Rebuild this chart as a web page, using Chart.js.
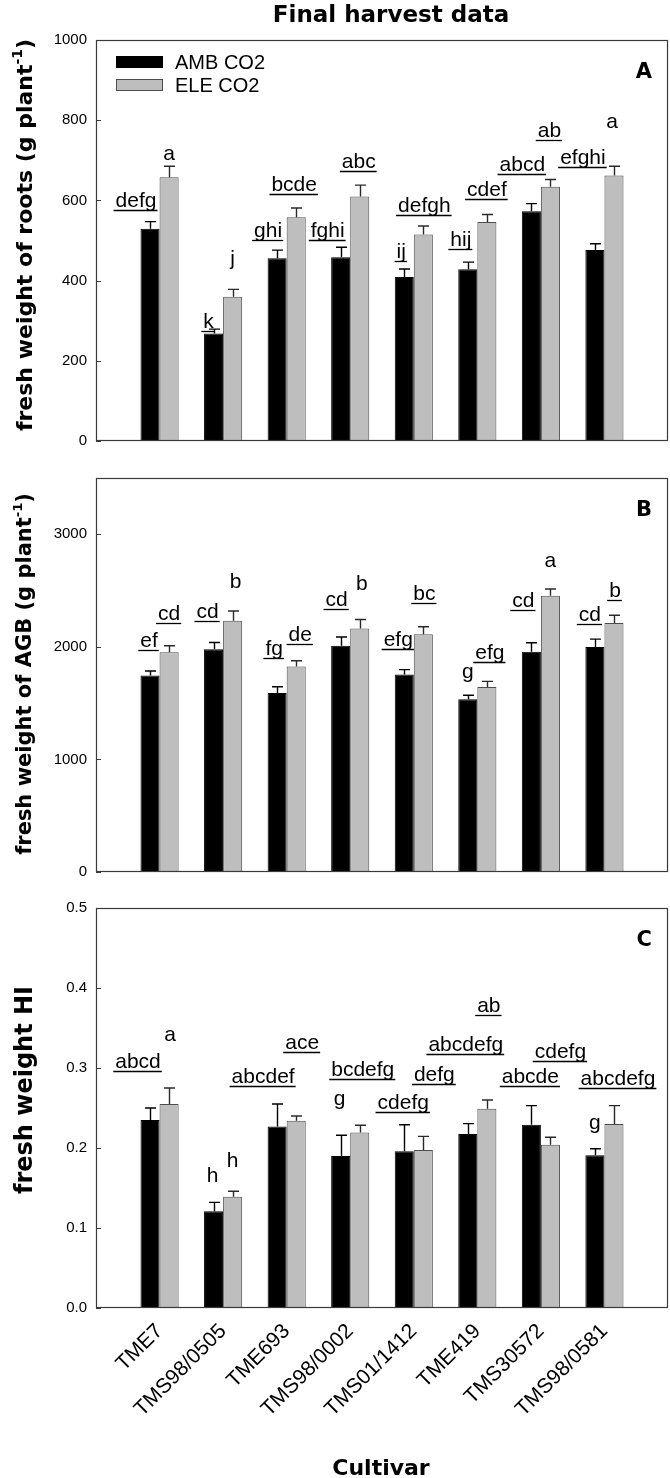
<!DOCTYPE html>
<html><head><meta charset="utf-8">
<script src="https://cdn.jsdelivr.net/npm/chart.js@4.4.0/dist/chart.umd.min.js"></script>
<style>
html,body{margin:0;padding:0;background:#fff;}
#wrap{position:relative;width:670px;height:1478px;background:#fff;}
canvas{position:absolute;left:0;}
</style></head><body>
<div id="wrap">
<canvas id="cA" width="670" height="460" style="top:0px"></canvas>
<canvas id="cB" width="670" height="430" style="top:460px"></canvas>
<canvas id="cC" width="670" height="588" style="top:890px"></canvas>
</div>
<script>
// ---------- data ----------
const cultivars = ['TME7','TMS98/0505','TME693','TMS98/0002','TMS01/1412','TME419','TMS30572','TMS98/0581'];
const seriesNames = ['AMB CO2','ELE CO2'];

// Panel A: fresh weight of roots
const ambRoots    = [529, 268, 456, 458, 409, 428, 573, 476];
const ambRootsErr = [18, 11, 20, 25, 20, 18, 19, 16];
const eleRoots    = [658, 360, 558, 610, 515, 546, 634, 662];
const eleRootsErr = [27, 18, 23, 28, 21, 19, 18, 23];
const rootTicks   = [0, 200, 400, 600, 800, 1000];

// Panel B: fresh weight of AGB
const ambAGB    = [1745, 1978, 1590, 2010, 1754, 1535, 1957, 1998];
const ambAGBErr = [40, 61, 56, 78, 44, 35, 79, 71];
const eleAGB    = [1951, 2231, 1826, 2164, 2112, 1643, 2453, 2211];
const eleAGBErr = [59, 87, 50, 79, 67, 50, 61, 70];
const agbTicks  = [0, 1000, 2000, 3000];

// Panel C: fresh weight HI
const ambHI    = [0.235, 0.121, 0.227, 0.190, 0.196, 0.2175, 0.229, 0.191];
const ambHIErr = [0.015, 0.011, 0.028, 0.026, 0.033, 0.013, 0.024, 0.008];
const eleHI    = [0.255, 0.139, 0.234, 0.2195, 0.1975, 0.249, 0.204, 0.230];
const eleHIErr = [0.020, 0.007, 0.006, 0.009, 0.017, 0.011, 0.0095, 0.023];
const hiTicks  = [0, 0.1, 0.2, 0.3, 0.4, 0.5];

// significance letters (text, level in data units, underlined flag, x nudge)
const rootLetAmb   = ['defg','k','ghi','fghi','ij','hij','abcd','efghi'];
const rootLetAmbY  = [583, 282, 508, 508, 456, 487, 674, 691];
const rootLetAmbU  = [1,1,1,1,1,1,1,1];
const rootLetAmbDx = [-14,-5,-9,-13,-3,-7,-9,-12];
const rootLetEle   = ['a','j','bcde','abc','defgh','cdef','ab','a'];
const rootLetEleY  = [701, 440, 623, 680, 570, 612, 757, 780];
const rootLetEleU  = [0,0,1,1,1,1,1,0];
const rootLetEleDx = [0,0,-2,-1,1,0,-1,-2];

const agbLetAmb   = ['ef','cd','fg','cd','efg','g','cd','cd'];
const agbLetAmbY  = [1995, 2252, 1931, 2360, 2010, 1721, 2351, 2234];
const agbLetAmbU  = [1,1,1,1,1,0,1,1];
const agbLetAmbDx = [-1,-6,-3,-4,-6,0,-8,-5];
const agbLetEle   = ['cd','b','de','b','bc','efg','a','b'];
const agbLetEleY  = [2243, 2520, 2054, 2505, 2418, 1894, 2709, 2447];
const agbLetEleU  = [1,0,1,0,1,1,0,1];
const agbLetEleDx = [0,3,4,2,1,3,0,1];

const hiLetAmb   = ['abcd','h','abcdef','g','cdefg','abcdefg','abcde','g'];
const hiLetAmbY  = [0.2997, 0.157, 0.2818, 0.2536, 0.2486, 0.321, 0.281, 0.2237];
const hiLetAmbU  = [1,0,1,0,1,1,1,0];
const hiLetAmbDx = [-12,-1,-14,-1,-1,-2,-1,0];
const hiLetEle   = ['a','h','ace','bcdefg','defg','ab','cdefg','abcdefg'];
const hiLetEleY  = [0.3338, 0.176, 0.3234, 0.290, 0.284, 0.370, 0.313, 0.279];
const hiLetEleU  = [0,0,1,1,1,1,1,1];
const hiLetEleDx = [1,0,6,3,11,2,10,4];

// ---------- styles ----------
const REG = '"Liberation Sans", Arial, sans-serif';
const BOLD = '"DejaVu Sans", "Liberation Sans", sans-serif';
const AMB_FILL = '#000000', AMB_LINE = '#000000';
const ELE_FILL = '#bebebe', ELE_LINE = '#4d4d4d';
const FRAME = '#3a3a3a';

const pad = a => [null, ...a, null];
const labels = ['', ...cultivars, ''];

function drawRotTitle(ctx, cx, cy, main, sup, tail, size) {
  ctx.save();
  ctx.translate(cx, cy);
  ctx.rotate(-Math.PI / 2);
  ctx.fillStyle = '#000';
  ctx.textBaseline = 'middle';
  ctx.textAlign = 'left';
  const fMain = 'bold ' + size + 'px ' + BOLD;
  const fSup = 'bold ' + Math.round(size * 0.62) + 'px ' + BOLD;
  ctx.font = fMain; const w1 = ctx.measureText(main).width; const w3 = tail ? ctx.measureText(tail).width : 0;
  ctx.font = fSup; const w2 = sup ? ctx.measureText(sup).width : 0;
  let x = -(w1 + w2 + w3) / 2;
  ctx.font = fMain; ctx.fillText(main, x, 0); x += w1;
  if (sup) { ctx.font = fSup; ctx.fillText(sup, x, -size * 0.36); x += w2; }
  if (tail) { ctx.font = fMain; ctx.fillText(tail, x, 0); }
  ctx.restore();
}

const decor = {
  id: 'decor',
  afterDatasetsDraw(chart, args, o) {
    const ctx = chart.ctx, ca = chart.chartArea, ys = chart.scales.y;
    ctx.save();
    // error bars (upper whisker only)
    o.errors.forEach((errs, di) => {
      const meta = chart.getDatasetMeta(di);
      const vals = chart.data.datasets[di].data;
      const pe = pad(errs);
      ctx.strokeStyle = di === 0 ? '#000' : '#2a2a2a';
      ctx.lineWidth = 1.4;
      meta.data.forEach((el, j) => {
        const v = vals[j];
        if (v == null) return;
        const top = ys.getPixelForValue(v + pe[j]);
        const x = Math.round(el.x) + 0.5;
        ctx.beginPath();
        ctx.moveTo(x, el.y); ctx.lineTo(x, top);
        ctx.moveTo(x - 5.5, top); ctx.lineTo(x + 5.5, top);
        ctx.stroke();
      });
    });
    // frame
    ctx.strokeStyle = FRAME; ctx.lineWidth = 1.2;
    ctx.strokeRect(ca.left + 0.5, ca.top + 0.5, ca.right - ca.left - 1, ca.bottom - ca.top - 1);
    // inward y ticks
    ctx.lineWidth = 1;
    ys.ticks.forEach(t => {
      const py = Math.round(ys.getPixelForValue(t.value)) + 0.5;
      ctx.beginPath(); ctx.moveTo(ca.left, py); ctx.lineTo(ca.left + 5, py); ctx.stroke();
    });
    // significance letters
    ctx.fillStyle = '#000'; ctx.strokeStyle = '#000';
    ctx.font = '21px ' + REG; ctx.textAlign = 'center'; ctx.textBaseline = 'alphabetic';
    o.letters.forEach((L, di) => {
      const meta = chart.getDatasetMeta(di);
      L.t.forEach((txt, k) => {
        const el = meta.data[k + 1];
        const x = el.x + L.dx[k];
        const y = ys.getPixelForValue(L.y[k]);
        ctx.fillText(txt, x, y);
        if (L.u[k]) {
          const w = ctx.measureText(txt).width;
          const uy = Math.round(y + 3) + 0.5;
          ctx.lineWidth = 1.3;
          ctx.beginPath(); ctx.moveTo(x - w / 2 - 2, uy); ctx.lineTo(x + w / 2 + 1, uy); ctx.stroke();
        }
      });
    });
    // panel letter
    ctx.font = 'bold 21px ' + BOLD; ctx.textAlign = 'right';
    ctx.fillText(o.panel, ca.right - 16, ca.top + 38);
    // y title
    drawRotTitle(ctx, 26, o.titleCy, o.ytitle[0], o.ytitle[1], o.ytitle[2], o.titleSize);
    // legend
    if (o.legend) {
      const ds = chart.data.datasets;
      ctx.font = '20px ' + REG; ctx.textAlign = 'left'; ctx.textBaseline = 'middle';
      ds.forEach((d, i) => {
        const by = 56 + i * 23;
        ctx.fillStyle = d.backgroundColor; ctx.fillRect(116, by, 47, 12);
        ctx.strokeStyle = d.borderColor; ctx.lineWidth = 1;
        ctx.strokeRect(116.5, by + 0.5, 46, 11);
        ctx.fillStyle = '#000';
        ctx.fillText(d.label, 175, by + 7);
      });
    }
    // main title
    if (o.mainTitle) {
      ctx.font = 'bold 23px ' + BOLD; ctx.textAlign = 'center'; ctx.textBaseline = 'alphabetic';
      ctx.fillStyle = '#000';
      ctx.fillText(o.mainTitle, 391, 22);
    }
    if (o.xTitle) {
      ctx.font = 'bold 22px ' + BOLD; ctx.textAlign = 'center'; ctx.textBaseline = 'alphabetic';
      ctx.fillStyle = '#000';
      ctx.fillText(o.xTitle, 381, 585);
    }
    ctx.restore();
  }
};

function makePanel(id, amb, ele, ambErr, eleErr, ticks, max, fmt, pads, showX, extra) {
  return new Chart(document.getElementById(id), {
    type: 'bar',
    data: {
      labels: labels,
      datasets: [
        { label: seriesNames[0], data: pad(amb), backgroundColor: AMB_FILL, borderColor: AMB_LINE, borderWidth: 1 },
        { label: seriesNames[1], data: pad(ele), backgroundColor: ELE_FILL, borderColor: ELE_LINE, borderWidth: 1 }
      ]
    },
    options: {
      responsive: false, animation: false, devicePixelRatio: 1,
      layout: { padding: pads },
      datasets: { bar: { barPercentage: 1, categoryPercentage: 0.6 } },
      plugins: {
        legend: { display: false }, tooltip: { enabled: false }, title: { display: false },
        decor: Object.assign({ errors: [ambErr, eleErr] }, extra)
      },
      scales: {
        x: {
          display: showX, offset: false,
          grid: { display: false, drawTicks: false }, border: { display: false },
          ticks: { autoSkip: false, minRotation: 45, maxRotation: 45, padding: 11, color: '#000', font: { family: REG, size: 21 } },
          afterFit: s => { s.height = showX ? 170 : 0; s.paddingLeft = 0; s.paddingRight = 0; }
        },
        y: {
          min: 0, max: max,
          grid: { display: false, drawTicks: false }, border: { display: false },
          afterBuildTicks: s => { s.ticks = ticks.map(v => ({ value: v })); },
          afterFit: s => { s.width = 96; },
          ticks: { padding: 9, color: '#000', font: { family: REG, size: 15 }, callback: fmt }
        }
      }
    },
    plugins: [decor]
  });
}

const L = (t, y, u, dx) => ({ t, y, u, dx });

makePanel('cA', ambRoots, eleRoots, ambRootsErr, eleRootsErr, rootTicks, 1000, v => String(v),
  { top: 40, bottom: 19, left: 0, right: 2 }, false,
  { panel: 'A', legend: true, mainTitle: 'Final harvest data', titleCy: 235, titleSize: 22,
    ytitle: ['fresh weight of roots (g plant', '-1', ')'],
    letters: [L(rootLetAmb, rootLetAmbY, rootLetAmbU, rootLetAmbDx), L(rootLetEle, rootLetEleY, rootLetEleU, rootLetEleDx)] });

makePanel('cB', ambAGB, eleAGB, ambAGBErr, eleAGBErr, agbTicks, 3500, v => String(v),
  { top: 14, bottom: 15, left: 0, right: 2 }, false,
  { panel: 'B', titleCy: 214, titleSize: 21,
    ytitle: ['fresh weight of AGB (g plant', '-1', ')'],
    letters: [L(agbLetAmb, agbLetAmbY, agbLetAmbU, agbLetAmbDx), L(agbLetEle, agbLetEleY, agbLetEleU, agbLetEleDx)] });

makePanel('cC', ambHI, eleHI, ambHIErr, eleHIErr, hiTicks, 0.5, v => Number(v).toFixed(1),
  { top: 17, bottom: 0, left: 0, right: 2 }, true,
  { panel: 'C', titleCy: 200, titleSize: 24, xTitle: 'Cultivar',
    ytitle: ['fresh weight HI', '', ''],
    letters: [L(hiLetAmb, hiLetAmbY, hiLetAmbU, hiLetAmbDx), L(hiLetEle, hiLetEleY, hiLetEleU, hiLetEleDx)] });
</script>
</body></html>
